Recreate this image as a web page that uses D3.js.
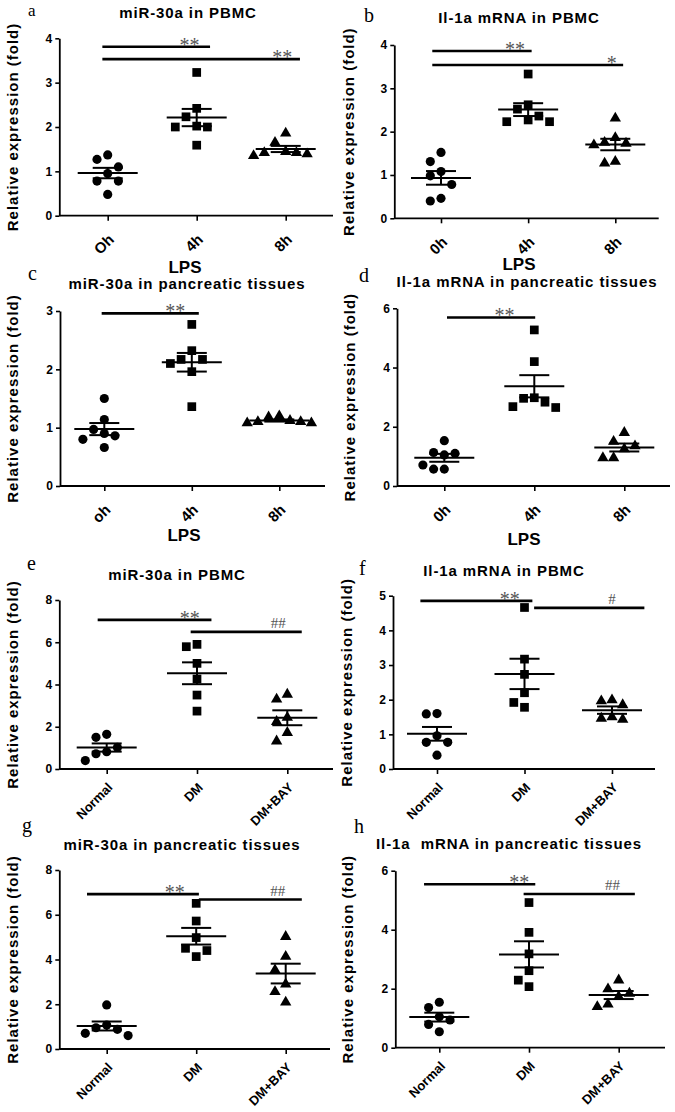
<!DOCTYPE html>
<html><head><meta charset="utf-8">
<script src="https://cdn.jsdelivr.net/npm/d3@7"></script>
<style>body{margin:0;background:#fff} svg{display:block}</style>
</head><body>
<script>
// ---------------- data ----------------
const panelLetters = ["a","b","c","d","e","f","g","h"];
const panelTitles = ["miR-30a in PBMC","Il-1a mRNA in PBMC","miR-30a in pancreatic tissues","Il-1a mRNA in pancreatic tissues",
                     "miR-30a in PBMC","Il-1a mRNA in PBMC","miR-30a in pancreatic tissues","Il-1a  mRNA in pancreatic tissues"];
const yAxisTitle = "Relative expression (fold)";
const xAxisTitles = ["LPS","LPS","LPS","LPS","","","",""];

const catsA = ["Oh","4h","8h"];
const catsB = ["0h","4h","8h"];
const catsC = ["oh","4h","8h"];
const catsD = ["0h","4h","8h"];
const catsDM = ["Normal","DM","DM+BAY"];

const yTicksA = [0,1,2,3,4];
const yTicksB = [0,1,2,3,4];
const yTicksC = [0,1,2,3];
const yTicksD = [0,2,4,6];
const yTicksE = [0,2,4,6,8];
const yTicksF = [0,1,2,3,4,5];
const yTicksG = [0,2,4,6,8];
const yTicksH = [0,2,4,6];

const valuesA = [[1.37,1.27,1.10,0.95,0.78,0.78,0.48],[3.23,2.42,2.23,2.02,2.00,2.00,1.59],[1.86,1.65,1.44,1.42,1.42,1.39,1.35]];
const valuesB = [[1.52,1.31,1.08,0.98,0.78,0.46,0.40],[3.33,2.62,2.52,2.36,2.27,2.23,2.23],[2.31,1.86,1.75,1.73,1.69,1.31,1.27]];
const valuesC = [[1.50,1.14,0.97,0.90,0.86,0.80,0.66],[2.77,2.32,2.17,2.17,2.10,1.96,1.36],[1.20,1.18,1.12,1.10,1.10,1.08,1.08]];
const valuesD = [[1.53,1.13,1.10,1.05,0.71,0.57,0.57],[5.27,4.20,2.98,2.96,2.83,2.68,2.65],[1.80,1.50,1.35,1.25,0.95,0.95]];
const valuesE = [[1.64,1.50,1.02,0.82,0.72,0.40],[5.90,5.79,5.00,4.26,3.50,2.74],[3.53,3.30,2.44,2.24,1.72,1.32]];
const valuesF = [[1.60,1.59,0.96,0.77,0.77,0.40],[4.66,3.17,2.73,2.20,1.92,1.78],[1.99,1.96,1.85,1.50,1.46,1.43]];
const valuesG = [[1.97,1.07,0.95,0.88,0.70,0.60],[6.51,5.72,4.98,4.50,4.40,4.13],[5.02,4.13,3.53,2.90,2.56,2.09]];
const valuesH = [[1.54,1.36,1.05,0.94,0.79,0.54],[4.92,3.91,3.18,2.61,2.29,2.07],[2.29,1.99,1.84,1.73,1.47,1.39]];

// significance bars: [from (category index), to, y value, label, label position (category index)]
const sigA = [[-0.06,1.15,3.81,"**",0.92],[-0.06,2.16,3.53,"**",1.96]];
const sigB = [[-0.10,1.04,3.86,"**",0.85],[-0.10,2.09,3.54,"*",1.96]];
const sigC = [[-0.03,1.08,2.96,"**",0.81]];
const sigD = [[0.03,1.01,5.69,"**",0.67]];
const sigE = [[-0.10,1.16,7.06,"**",0.92],[0.93,2.16,6.49,"##",1.90]];
const sigF = [[-0.19,1.09,4.85,"**",0.83],[1.11,2.37,4.65,"#",2.00]];
const sigG = [[-0.22,1.03,6.92,"**",0.76],[1.03,2.18,6.68,"##",1.91]];
const sigH = [[-0.17,1.07,5.54,"**",0.89],[0.94,2.18,5.21,"##",1.93]];

// ---------------- layout (pixels) ----------------
const layout = [
 {left:59.3,right:333,top:38.3,bottom:215.7,x0:107.7,x2:285.7,tx:188,ty:17.5,lx:28,ly:16,ylx:12,xtx:185,xty:273,tdy:21,tfs:15},
 {left:394.3,right:658.7,top:45,bottom:218.3,x0:441,x2:615.3,tx:519,ty:23.3,lx:364,ly:21.7,ylx:348.7,xtx:519,xty:270,tdy:21,tfs:15},
 {left:60,right:325,top:311,bottom:486,x0:104.3,x2:279.3,tx:187,ty:289.3,lx:28,ly:280,ylx:12,xtx:184,xty:541,tdy:21,tfs:15},
 {left:397,right:670,top:308.3,bottom:486,x0:444.3,x2:624.3,tx:527,ty:286.7,lx:359,ly:282,ylx:349,xtx:524,xty:545,tdy:21,tfs:15},
 {left:59.3,right:333,top:600,bottom:769,x0:106.7,x2:287.3,tx:177,ty:580,lx:27,ly:570,ylx:12.5,tdy:16,tfs:13},
 {left:393,right:655,top:595.7,bottom:769,x0:437,x2:612,tx:504,ty:575.7,lx:359,ly:575,ylx:346,tdy:16,tfs:13},
 {left:59.3,right:330,top:870,bottom:1049,x0:106.7,x2:285.7,tx:182,ty:850,lx:22,ly:832,ylx:12.5,tdy:16,tfs:13},
 {left:395.3,right:665,top:870.7,bottom:1047.7,x0:439.3,x2:618.7,tx:509,ty:849,lx:354,ly:833,ylx:347,tdy:16,tfs:13}
];

const panels = [
 {cats:catsA,ticks:yTicksA,values:valuesA,sig:sigA},
 {cats:catsB,ticks:yTicksB,values:valuesB,sig:sigB},
 {cats:catsC,ticks:yTicksC,values:valuesC,sig:sigC},
 {cats:catsD,ticks:yTicksD,values:valuesD,sig:sigD},
 {cats:catsDM,ticks:yTicksE,values:valuesE,sig:sigE},
 {cats:catsDM,ticks:yTicksF,values:valuesF,sig:sigF},
 {cats:catsDM,ticks:yTicksG,values:valuesG,sig:sigG},
 {cats:catsDM,ticks:yTicksH,values:valuesH,sig:sigH}
];

const sans = "'Liberation Sans', Arial, sans-serif";
const serif = "'Liberation Serif', 'Times New Roman', serif";
const symbols = [d3.symbolCircle, d3.symbolSquare, d3.symbolTriangle];
const symbolSizes = [66, 76, 56];

const svg = d3.select("body").append("svg").attr("width",675).attr("height",1112)
  .style("background","#fff");

function swarm(vals, y, T, spacing){
  const sorted = vals.slice().sort((a,b)=>b-a);
  const placed = [];
  sorted.forEach(v=>{
    const py = y(v);
    for (const k of [0,-1,1,-2,2,-3,3]){
      if (!placed.some(q=>q.k===k && Math.abs(q.py-py)<T)){ placed.push({v,py,k,off:k*spacing}); break; }
    }
  });
  return placed;
}

panels.forEach((p,i)=>{
  const L = layout[i];
  const g = svg.append("g");
  const y = d3.scaleLinear().domain([0,d3.max(p.ticks)]).range([L.bottom,L.top]);
  const x = d3.scalePoint().domain(p.cats).range([L.x0,L.x2]);
  const xi = d3.scaleLinear().domain([0,p.cats.length-1]).range([L.x0,L.x2]);

  // y axis
  const ya = g.append("g").attr("transform",`translate(${L.left},0)`)
    .call(d3.axisLeft(y).tickValues(p.ticks).tickFormat(d3.format("d")).tickSize(4).tickSizeOuter(0).tickPadding(3));
  ya.select(".domain").attr("stroke","#000").attr("stroke-width",1.8);
  ya.selectAll(".tick line").attr("stroke","#000").attr("stroke-width",1.6);
  ya.selectAll("text").attr("fill","#000").style("font-family",sans).style("font-size","12px").style("font-weight","bold");

  // x axis
  const xa = g.append("g").attr("transform",`translate(0,${L.bottom})`)
    .call(d3.axisBottom(x).tickSize(5).tickSizeOuter(0));
  xa.select(".domain").attr("d",`M${L.left},0H${L.right}`).attr("stroke","#000").attr("stroke-width",1.8);
  xa.selectAll(".tick line").attr("stroke","#000").attr("stroke-width",1.6);
  xa.selectAll("text").attr("fill","#000").attr("x",0).attr("y",0).attr("dy","0.35em")
    .attr("transform",`translate(3,${L.tdy}) rotate(-45)`)
    .style("text-anchor","end").style("font-family",sans).style("font-size",L.tfs+"px").style("font-weight","bold");

  // y axis title
  g.append("text").attr("transform",`translate(${L.ylx},${(L.top+L.bottom)/2}) rotate(-90)`)
    .attr("text-anchor","middle").attr("dominant-baseline","central")
    .style("font-family",sans).style("font-size","15px").style("font-weight","bold").style("letter-spacing","1px")
    .text(yAxisTitle);

  // x axis title
  if (xAxisTitles[i]) g.append("text").attr("x",L.xtx).attr("y",L.xty).attr("text-anchor","middle")
    .style("font-family",sans).style("font-size","17px").style("font-weight","bold").text(xAxisTitles[i]);

  // title
  g.append("text").attr("x",L.tx).attr("y",L.ty).attr("text-anchor","middle")
    .style("font-family",sans).style("font-size","15px").style("font-weight","bold")
    .style("letter-spacing","0.9px").style("white-space","pre").text(panelTitles[i]);

  // panel letter
  g.append("text").attr("x",L.lx).attr("y",L.ly)
    .style("font-family",serif).style("font-size",i===0?"17px":"20px").text(panelLetters[i]);

  // points
  p.values.forEach((vals,ci)=>{
    const cx = x(p.cats[ci]);
    const pts = swarm(vals,y,14,10.7);
    g.selectAll(null).data(pts).enter().append("path")
      .attr("d",d3.symbol().type(symbols[ci]).size(symbolSizes[ci]))
      .attr("transform",d=>`translate(${cx+d.off},${d.py})`)
      .attr("fill","#000");
    const m = d3.mean(vals), s = d3.deviation(vals)/Math.sqrt(vals.length);
    const ln = (x1,y1,x2,y2)=>g.append("line").attr("x1",x1).attr("y1",y1).attr("x2",x2).attr("y2",y2)
      .attr("stroke","#000").attr("stroke-width",2);
    ln(cx-30,y(m),cx+30,y(m));
    ln(cx-15,y(m+s),cx+15,y(m+s));
    ln(cx-15,y(m-s),cx+15,y(m-s));
    ln(cx,y(m+s),cx,y(m-s));
  });

  // significance bars
  p.sig.forEach(([a,b,v,lab,lp])=>{
    g.append("line").attr("x1",xi(a)).attr("x2",xi(b)).attr("y1",y(v)).attr("y2",y(v))
      .attr("stroke","#000").attr("stroke-width",2.6);
    const star = lab.includes("*");
    g.append("text").attr("x",xi(lp)).attr("y",star ? y(v)+5 : y(v)-4).attr("text-anchor","middle")
      .attr("fill","#555").style("font-family",serif).style("font-size",star?"20px":"15px").text(lab);
  });
});
</script>
</body></html>
